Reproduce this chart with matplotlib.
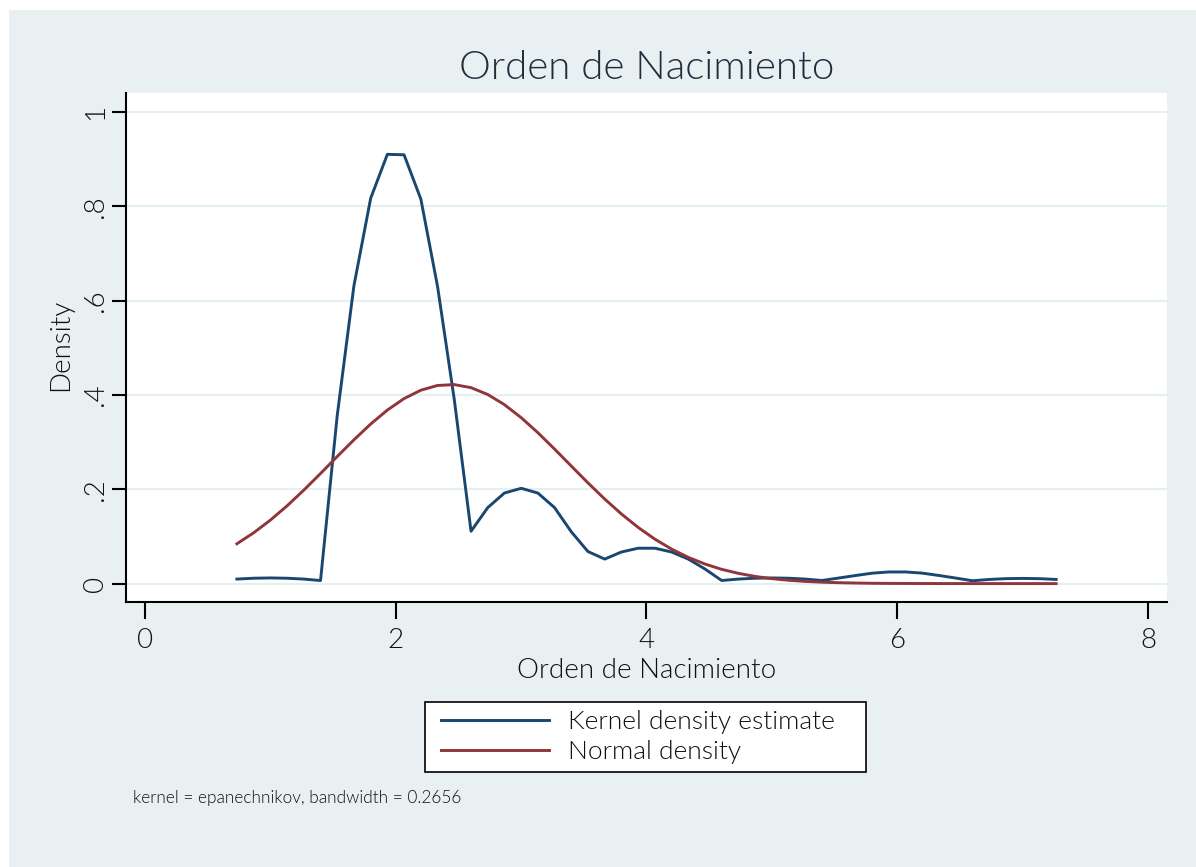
import matplotlib
matplotlib.use("Agg")
import matplotlib.pyplot as plt
from matplotlib.patches import Rectangle

# Evaluation points (birth order grid)
x_points = [0.734, 0.868, 1.001, 1.134, 1.268, 1.401, 1.534, 1.667, 1.801, 1.934,
            2.067, 2.201, 2.334, 2.467, 2.601, 2.734, 2.867, 3.001, 3.134, 3.267,
            3.400, 3.533, 3.667, 3.800, 3.933, 4.067, 4.200, 4.333, 4.466, 4.599,
            4.733, 4.866, 4.999, 5.133, 5.266, 5.399, 5.532, 5.666, 5.799, 5.932,
            6.066, 6.199, 6.332, 6.465, 6.599, 6.732, 6.865, 6.998, 7.132, 7.266]

kernel_density = [0.0096, 0.0114, 0.0120, 0.0114, 0.0096, 0.0065, 0.356, 0.631, 0.817, 0.910,
                  0.909, 0.815, 0.630, 0.391, 0.111, 0.161, 0.192, 0.202, 0.192, 0.161,
                  0.110, 0.068, 0.052, 0.067, 0.075, 0.075, 0.067, 0.052, 0.031, 0.0066,
                  0.0096, 0.0114, 0.0120, 0.0114, 0.0096, 0.0066, 0.0118, 0.0171, 0.0221, 0.0247,
                  0.0247, 0.0222, 0.0172, 0.0118, 0.0060, 0.0088, 0.0105, 0.0110, 0.0105, 0.0088]

normal_density = [0.0844, 0.1077, 0.1346, 0.1648, 0.1982, 0.2334, 0.2694, 0.3047, 0.3383, 0.3679,
                  0.3922, 0.4100, 0.4200, 0.4219, 0.4154, 0.4009, 0.3794, 0.3517, 0.3199, 0.2852,
                  0.2493, 0.2136, 0.1792, 0.1476, 0.1192, 0.0942, 0.0731, 0.0556, 0.0415, 0.0303,
                  0.0217, 0.0152, 0.0105, 0.0071, 0.0047, 0.0030, 0.0019, 0.0012, 0.0007, 0.0004,
                  0.0003, 0.0002, 0.0001, 0.0001, 0.0000, 0.0000, 0.0000, 0.0000, 0.0000, 0.0000]

x_ticks = [0, 2, 4, 6, 8]
x_tick_labels = ["0", "2", "4", "6", "8"]
y_ticks = [0, 0.2, 0.4, 0.6, 0.8, 1.0]
y_tick_labels = ["0", ".2", ".4", ".6", ".8", "1"]

title = "Orden de Nacimiento"
x_label = "Orden de Nacimiento"
y_label = "Density"
legend_labels = ["Kernel density estimate", "Normal density"]
note = "kernel = epanechnikov, bandwidth = 0.2656"

FONT = ["Lato", "DejaVu Sans"]
plt.rcParams['font.family'] = FONT
plt.rcParams['font.weight'] = 300

BG = "#e8f0f2"
GRID = "#e6eff1"
BLUE = "#1a476f"
RED = "#90353b"
TXT = "#111111"
WT = 300

W, H = 1196, 867
fig = plt.figure(figsize=(W / 100, H / 100), dpi=100)
fig.patch.set_facecolor("white")
fig.add_artist(Rectangle((9 / W, 0), 1 - 9 / W, 1 - 10 / H, transform=fig.transFigure,
                         facecolor=BG, edgecolor="none", zorder=0))

left, right, top, bottom = 126, 1167, 93, 602
ax = fig.add_axes([left / W, 1 - bottom / H, (right - left) / W, (bottom - top) / H])
ax.set_facecolor("white")
ax.set_zorder(1)

ax.plot(x_points, kernel_density, color=BLUE, lw=2.1, label=legend_labels[0], zorder=3)
ax.plot(x_points, normal_density, color=RED, lw=2.1, label=legend_labels[1], zorder=3)

ax.set_xlim(-0.15, 8.15)
ax.set_ylim(-0.039, 1.04)

ax.set_xticks(x_ticks)
ax.set_xticklabels(x_tick_labels, fontsize=20, color=TXT, fontweight=WT)
ax.set_yticks(y_ticks)
ax.set_yticklabels(y_tick_labels, fontsize=20, rotation=90, va="center", color=TXT,
                   fontweight=WT)

ax.tick_params(axis="x", length=12, width=1.5, pad=7)
ax.tick_params(axis="y", length=10, width=1.5, pad=3)

for s in ["top", "right"]:
    ax.spines[s].set_visible(False)
for s in ["left", "bottom"]:
    ax.spines[s].set_linewidth(1.5)
    ax.spines[s].set_color("black")

ax.yaxis.grid(True, color=GRID, lw=1.5)
ax.set_axisbelow(True)

ax.set_xlabel(x_label, fontsize=20, color=TXT, fontweight=WT)
ax.set_ylabel(y_label, fontsize=20, color=TXT, fontweight=WT)
ax.xaxis.set_label_coords((646.5 - left) / (right - left), -(670 - bottom) / (bottom - top))
ax.xaxis.label.set_va("center")
ax.yaxis.set_label_coords(-(left - 61) / (right - left), (bottom - 345) / (bottom - top))
ax.yaxis.label.set_va("center")

fig.text((left + right) / 2 / W, 1 - 68 / H, title, ha="center", va="center",
         fontsize=29, color="#1f2e3d", fontweight=WT)

# legend frame (drawn separately to match the wide padding of the original)
fig.add_artist(Rectangle((425 / W, 1 - 772 / H), (866 - 425) / W, 70 / H,
                         transform=fig.transFigure, facecolor="white", edgecolor="black",
                         lw=1.2, zorder=2))
handles, labels = ax.get_legend_handles_labels()
leg = fig.legend(handles, labels, loc="center left", bbox_to_anchor=(441 / W, 1 - 737 / H),
                 frameon=False, borderaxespad=0, borderpad=0,
                 prop={"size": 19, "weight": WT}, handlelength=4.1, handletextpad=0.7,
                 labelspacing=0.24, labelcolor=TXT)
leg.set_zorder(3)

fig.text(133 / W, 1 - 798 / H, note, ha="left", va="center", fontsize=12.4, color=TXT,
         fontweight=WT)

fig.savefig("out.png", dpi=100, facecolor=fig.get_facecolor())
